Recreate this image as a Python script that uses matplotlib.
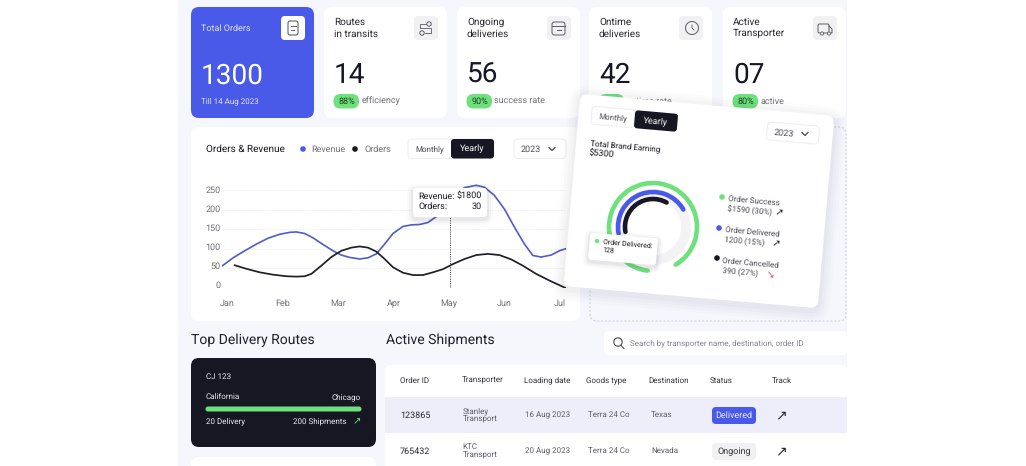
import matplotlib
matplotlib.use('Agg')
import matplotlib.pyplot as plt
from matplotlib.patches import FancyBboxPatch, Rectangle, Circle, PathPatch
from matplotlib.path import Path
from matplotlib.transforms import Affine2D, ScaledTranslation

plt.rcParams['font.family'] = ['Roboto', 'DejaVu Sans']
plt.rcParams['text.hinting'] = 'no_hinting'
plt.rcParams['text.hinting_factor'] = 1

# Chart data
months = ['Jan', 'Feb', 'Mar', 'Apr', 'May', 'Jun', 'Jul']
y_ticks = [0, 50, 100, 150, 200, 250]
revenue_x = [-0.08, 0.11, 0.32, 0.53, 0.74, 0.95, 1.13, 1.25, 1.40, 1.55, 1.73, 1.91, 2.06, 2.21, 2.39, 2.54,
             2.69, 2.84, 2.99, 3.17, 3.32, 3.47, 3.62, 3.77, 4.01, 4.28, 4.49, 4.64, 4.82, 5.00, 5.18, 5.36,
             5.51, 5.66, 5.84, 5.99, 6.10]
revenue_y = [57, 77, 95, 112, 127, 137, 142, 143, 139, 128, 111, 95, 84, 78, 74, 77,
             87, 112, 139, 157, 161, 162, 167, 182, 226, 256, 262, 257, 236, 201, 155, 112,
             83, 79, 84, 95, 100]
orders_x = [0.14, 0.35, 0.59, 0.83, 1.07, 1.25, 1.40, 1.52, 1.70, 1.88, 2.06, 2.24, 2.39, 2.54, 2.69, 2.84,
            2.99, 3.17, 3.35, 3.53, 3.71, 3.89, 4.07, 4.28, 4.49, 4.70, 4.91, 5.12, 5.33, 5.57, 5.81, 6.10]
orders_y = [58, 49, 40, 34, 30, 29, 30, 36, 57, 79, 95, 103, 106, 103, 93, 74,
            53, 39, 33, 33, 40, 48, 61, 74, 84, 87, 84, 73, 57, 36, 19, 0]

# Top cards
card_left = [324, 457, 589, 723]
card_titles = ['Routes\nin transits', 'Ongoing\ndeliveries', 'Ontime\ndeliveries', 'Active\nTransporter']
card_values = ['14', '56', '42', '07']
card_pcts = ['88%', '90%', '85%', '80%']
card_notes = ['efficiency', 'success rate', 'ontime rate', 'active']

# Table
columns = ['Order ID', 'Transporter', 'Loading date', 'Goods type', 'Destination', 'Status', 'Track']
column_x = [400, 462, 524, 586, 648, 710, 772]
order_ids = ['123865', '765432']
transporters = ['Stanley\nTransport', 'KTC\nTransport']
loading_dates = ['16 Aug 2023', '20 Aug 2023']
goods = ['Terra 24 Co', 'Terra 24 Co']
destinations = ['Texas', 'Nevada']
statuses = ['Delivered', 'Ongoing']

# Ring card: start angle and sweep in degrees, radius in px
ring_colors = ['#6ee07c', '#4a5ae8', '#161723']
ring_start = [-59, 30, 61]
ring_sweep = [322, 161, 129]
ring_radius = [44, 35, 28]

BLUE = '#4a5ae8'
DARK = '#161723'
GREEN = '#6ee07c'
GREY = '#6f7078'
TILT = 5

fig = plt.figure(figsize=(10.26, 4.66), dpi=100, facecolor='white')


def pixel_axes(z):
    a = fig.add_axes([0, 0, 1, 1], zorder=z)
    a.set_xlim(0, 1026)
    a.set_ylim(466, 0)
    a.axis('off')
    return a


def box(a, x0, y0, x1, y1, color, r=6, z=2, **kw):
    p = FancyBboxPatch((x0 + r, y0 + r), x1 - x0 - 2 * r, y1 - y0 - 2 * r,
                       boxstyle='round,pad=%f,rounding_size=%f' % (r, r),
                       fc=color, ec=kw.pop('ec', 'none'), lw=kw.pop('lw', 0), zorder=z, **kw)
    a.add_patch(p)
    return p


def tilted_box(a, cx, cy, w, h, color, r=4, z=12, **kw):
    p = box(a, cx - w / 2, cy - h / 2, cx + w / 2, cy + h / 2, color, r=r, z=z, **kw)
    p.set_transform(Affine2D().rotate_deg_around(cx, cy, TILT) + a.transData)
    return p


def txt(a, x, y, s, size=7, color=DARK, ha='left', z=5, **kw):
    return a.text(x, y, s, fontsize=size, color=color, ha=ha, va='center', zorder=z, **kw)


def ttxt(a, x, y, s, size=6.5, color=DARK, ha='left', z=14):
    return a.text(x, y, s, fontsize=size, color=color, ha=ha, va='center', zorder=z,
                  rotation=-TILT, rotation_mode='anchor')


def arrow(a, x, y, color=DARK, size=9, z=5, rot=0):
    a.text(x, y, '\u2197', fontsize=size, color=color, ha='center', va='center', zorder=z,
           family='DejaVu Sans', rotation=rot)


def chevron(a, x, y, z=5):
    a.plot([x - 3, x, x + 3], [y - 1.5, y + 1.5, y - 1.5], color='#33343c', lw=0.8, zorder=z)


bg = pixel_axes(1)
top = pixel_axes(3)

# Page background
bg.add_patch(Rectangle((178, 0), 669, 466, fc='#f6f6fd', ec='none', zorder=0))

# Total orders card
box(bg, 191, 7, 314, 118, BLUE, r=8)
txt(bg, 201, 28.5, 'Total Orders', 6.8, '#dfe2fb')
txt(bg, 201, 76.5, '1300', 20, 'white')
txt(bg, 201, 101, 'Till 14 Aug 2023', 6.1, '#dfe2fb')
box(bg, 281, 16, 305, 40, 'white', r=4)
box(bg, 288, 21, 298, 35, 'white', r=2, z=3, ec='#4a4a55', lw=0.7)
bg.plot([290.5, 295.5], [26, 26], color='#4a4a55', lw=0.6, zorder=4)
bg.plot([290.5, 294], [30, 30], color='#4a4a55', lw=0.6, zorder=4)

# Small cards
for i in range(4):
    x = card_left[i]
    box(bg, x, 7, x + 123, 118, 'white', r=8)
    txt(bg, x + 10, 28, card_titles[i], 6.9, '#26272f', linespacing=1.25)
    txt(bg, x + 10, 75.5, card_values[i], 20, DARK)
    box(bg, x + 9.5, 94, x + 35, 108.5, GREEN, r=7)
    txt(bg, x + 22.5, 101, card_pcts[i], 6.4, '#1c3d22', ha='center')
    txt(bg, x + 37.5, 101, card_notes[i], 6.2, GREY)
    box(bg, x + 90, 16, x + 114, 40, '#f1f1f3', r=4)

# Card icons
bg.add_patch(Circle((429, 24), 2.2, fc='none', ec='#5a5a65', lw=0.7, zorder=4))
bg.add_patch(Circle((422, 33), 2.2, fc='none', ec='#5a5a65', lw=0.7, zorder=4))
bg.plot([426, 420, 420, 431, 431, 425], [24, 24, 28, 28, 33, 33], color='#5a5a65', lw=0.6, zorder=4)
box(bg, 552, 22, 565, 35, '#f1f1f3', r=2.5, z=3, ec='#5a5a65', lw=0.7)
bg.plot([552, 565], [26, 26], color='#5a5a65', lw=0.7, zorder=4)
bg.plot([556.5, 560.5], [29.5, 29.5], color='#5a5a65', lw=0.7, zorder=4)
bg.add_patch(Circle((692, 28), 6.5, fc='none', ec='#5a5a65', lw=0.7, zorder=4))
bg.plot([692, 692, 694], [25, 28, 30], color='#5a5a65', lw=0.6, zorder=4)
box(bg, 818, 24, 829, 33, '#f1f1f3', r=1.5, z=3, ec='#5a5a65', lw=0.7)
bg.plot([829, 832, 832, 829], [26, 29, 33, 33], color='#5a5a65', lw=0.7, zorder=4)
bg.add_patch(Circle((822, 33.5), 1.6, fc='#f1f1f3', ec='#5a5a65', lw=0.6, zorder=4))
bg.add_patch(Circle((829, 33.5), 1.6, fc='#f1f1f3', ec='#5a5a65', lw=0.6, zorder=4))

# Chart card
box(bg, 191, 127, 580, 321, 'white', r=8)
txt(bg, 206, 149, 'Orders & Revenue', 6.9, DARK)
bg.add_patch(Circle((303, 149), 2.8, fc=BLUE, ec='none', zorder=4))
txt(bg, 311, 149, 'Revenue', 6.2, GREY)
bg.add_patch(Circle((355, 149), 2.8, fc=DARK, ec='none', zorder=4))
txt(bg, 364, 149, 'Orders', 6.2, GREY)
box(bg, 408, 139, 494, 158.5, 'white', r=4, ec='#eeeef3', lw=0.8)
box(bg, 451, 139, 494, 158.5, DARK, r=3, z=3)
txt(bg, 429.5, 149, 'Monthly', 6.1, '#4a4b53', ha='center')
txt(bg, 472.5, 149, 'Yearly', 6.3, 'white', ha='center')
box(bg, 514, 139, 566, 158.5, 'white', r=4, ec='#eeeef3', lw=0.8)
txt(bg, 521, 149, '2023', 6.6, '#4a4b53')
chevron(bg, 552, 149)

# Line chart, axes placed so that Jan sits at x=227 and value 0 at y=288
chart_left, chart_right = 222, 566
chart_top, chart_bottom = 175, 288
ax = fig.add_axes([chart_left / 1026, 1 - chart_bottom / 466, (chart_right - chart_left) / 1026,
                   (chart_bottom - chart_top) / 466], zorder=2)
ax.patch.set_alpha(0)
ax.set_xlim((chart_left - 227) / 55.5, (chart_right - 227) / 55.5)
ax.set_ylim(0, (chart_bottom - chart_top) / 0.392)
ax.plot(revenue_x, revenue_y, color='#4f5cc9', lw=1.2, solid_joinstyle='round', zorder=3)
ax.plot(orders_x, orders_y, color='#1e1f28', lw=1.25, solid_joinstyle='round', zorder=3)
ax.axvline(4.02, ymax=0.63, color='#2c2d35', lw=0.7, ls=(0, (1, 1.3)), zorder=2)
ax.set_xticks(range(len(months)))
ax.set_xticklabels(months, fontsize=6.7, color=GREY)
ax.set_yticks(y_ticks)
ax.set_yticklabels([str(v) for v in y_ticks], fontsize=6.8, color=GREY)
ax.tick_params(length=0, axis='x', pad=8)
ax.tick_params(length=0, axis='y', pad=1)
ax.grid(axis='y', color='#e9e9ef', lw=0.6, ls=(0, (1, 1.2)))
ax.set_axisbelow(True)
for spine in ax.spines.values():
    spine.set_visible(False)
for i, lab in enumerate(ax.get_yticklabels()):
    # labels sit a little above their gridlines towards the bottom of the axis
    lab.set_transform(lab.get_transform() + ScaledTranslation(0, (5 - i) * 0.75 / 100, fig.dpi_scale_trans))

# Tooltip on the chart
for pad, alpha in [(6, 0.025), (4, 0.035), (2, 0.05)]:
    box(top, 413 - pad, 188 - pad + 2, 487 + pad, 217 + pad + 2, '#30304a', r=4 + pad, z=1, alpha=alpha)
box(top, 413, 188, 487, 217, 'white', r=3.5, z=2)
txt(top, 418, 196, 'Revenue:', 6.6, DARK)
txt(top, 482, 196, '$1800', 6.6, DARK, ha='right')
txt(top, 418, 206.5, 'Orders:', 6.6, DARK)
txt(top, 482, 206.5, '30', 6.6, DARK, ha='right')

# Dashed frame behind the tilted card
box(top, 590, 127, 846, 321, '#f6f6fd', r=7, z=3, ec='#c9cad6', lw=0.7, ls=(0, (2, 2)))

# Tilted card with soft shadow
for pad, alpha in [(12, 0.012), (9, 0.016), (6, 0.02), (3, 0.025)]:
    tilted_box(top, 699, 204, 255 + pad * 2, 193 + pad * 2, '#30304a', r=8 + pad, z=9, alpha=alpha)
tilted_box(top, 699, 201, 255, 193, 'white', r=8, z=10)

tilted_box(top, 613, 117, 43, 18, 'white', r=3, ec='#eeeef3', lw=0.8)
tilted_box(top, 656, 121, 43, 18, DARK, r=3, z=13)
ttxt(top, 613, 117, 'Monthly', 6.1, '#4a4b53', ha='center')
ttxt(top, 656, 121.5, 'Yearly', 6.3, 'white', ha='center')
tilted_box(top, 793, 133, 52, 18, 'white', r=4, ec='#eeeef3', lw=0.8)
ttxt(top, 774, 132, '2023', 6.6, '#4a4b53')
chevron(top, 805, 134, z=14)
ttxt(top, 590, 143.5, 'Total Brand Earning', 6.1)
ttxt(top, 589, 152.5, '$5300', 6.4)

# Rings
ring_cx, ring_cy = 653, 227
ring_tf = Affine2D().scale(33, -33).translate(ring_cx, ring_cy) + top.transData
top.add_patch(PathPatch(Path.arc(0, 360), fc='none', ec='#f3f3f6', lw=7, transform=ring_tf, zorder=11))
for i in range(3):
    tf = Affine2D().scale(ring_radius[i], -ring_radius[i]).translate(ring_cx, ring_cy) + top.transData
    top.add_patch(PathPatch(Path.arc(ring_start[i], ring_start[i] + ring_sweep[i]), fc='none',
                            ec=ring_colors[i], lw=3.3, capstyle='round', transform=tf, zorder=12))

# Ring tooltip
for pad, alpha in [(5, 0.03), (3, 0.04), (1.5, 0.05)]:
    tilted_box(top, 623, 251, 68 + pad * 2, 27 + pad * 2, '#30304a', r=3 + pad, z=13, alpha=alpha)
tilted_box(top, 623, 249, 68, 27, 'white', r=3, z=13)
top.add_patch(Circle((597, 241), 2.2, fc=GREEN, ec='none', zorder=14))
ttxt(top, 603, 242, 'Order Delivered:', 5.3, DARK)
ttxt(top, 603, 250, '128', 5.4, DARK)

# Ring legend
top.add_patch(Circle((722, 197), 2.8, fc=GREEN, ec='none', zorder=14))
ttxt(top, 728, 198.5, 'Order Success', 6.1, '#4a4b53')
ttxt(top, 727, 209, '$1590 (30%)', 6.1, '#4a4b53')
arrow(top, 779, 213, DARK, 7, 14, rot=-TILT)
top.add_patch(Circle((719, 228), 2.8, fc=BLUE, ec='none', zorder=14))
ttxt(top, 725, 230, 'Order Delivered', 6.1, '#4a4b53')
ttxt(top, 724, 240, '1200 (15%)', 6.1, '#4a4b53')
arrow(top, 776, 244, DARK, 7, 14, rot=-TILT)
top.add_patch(Circle((717, 258), 2.8, fc=DARK, ec='none', zorder=14))
ttxt(top, 722, 261, 'Order Cancelled', 6.1, '#4a4b53')
ttxt(top, 722, 271, '390 (27%)', 6.1, '#4a4b53')
arrow(top, 768, 274, '#e2505a', 7, 14, rot=-95)

# Lower section headings and search
txt(bg, 191, 340, 'Top Delivery Routes', 10.3, '#1f2029')
txt(bg, 385.5, 340, 'Active Shipments', 10.3, '#1f2029')
box(bg, 604, 331, 847, 355, 'white', r=5)
bg.add_patch(Circle((618, 342), 4.2, fc='none', ec='#4a4a55', lw=0.8, zorder=4))
bg.plot([621, 624], [345.5, 348.5], color='#4a4a55', lw=0.8, zorder=4)
txt(bg, 629.5, 343, 'Search by transporter name, destination, order ID', 5.95, '#85868e')

# Route card
box(bg, 191, 358, 376, 447, DARK, r=8)
txt(bg, 206, 377, 'CJ 123', 6.1, '#e8e8ee')
txt(bg, 206, 397, 'California', 6.1, '#e8e8ee')
txt(bg, 361, 397, 'Chicago', 6.1, '#e8e8ee', ha='right')
box(bg, 205.5, 406.5, 361.5, 411.5, GREEN, r=2.5, z=3)
txt(bg, 206, 421, '20 Delivery', 6.1, '#e8e8ee')
txt(bg, 347, 421, '200 Shipments', 6.1, '#e8e8ee', ha='right')
arrow(bg, 357, 421, GREEN, 7)
box(bg, 191, 457, 376, 480, 'white', r=8)

# Table
box(bg, 385, 365, 847, 480, 'white', r=6)
bg.add_patch(Rectangle((385, 397), 462, 36, fc='#eeeefb', ec='none', zorder=3))
for i in range(len(columns)):
    txt(bg, column_x[i], 380.5, columns[i], 6, '#33343c')
for i in range(2):
    y = 415 + i * 36
    txt(bg, 400, y, order_ids[i], 6.2, '#26272f')
    txt(bg, 462.5, y, transporters[i], 6, '#5c5d65', linespacing=1.0)
    txt(bg, 525, y, loading_dates[i], 6, '#5c5d65')
    txt(bg, 588, y, goods[i], 6, '#5c5d65')
    txt(bg, 651, y, destinations[i], 6, '#5c5d65')
    arrow(bg, 781, y, '#26272f', 10)
box(bg, 712, 407, 756, 424, BLUE, r=4, z=4)
txt(bg, 734, 415.5, statuses[0], 6.2, '#e8e9fd', ha='center')
box(bg, 712, 443, 756, 460, '#f1f1f3', r=4, z=4)
txt(bg, 734, 451.5, statuses[1], 6.2, '#33343c', ha='center')

fig.savefig('out.png', dpi=100)
